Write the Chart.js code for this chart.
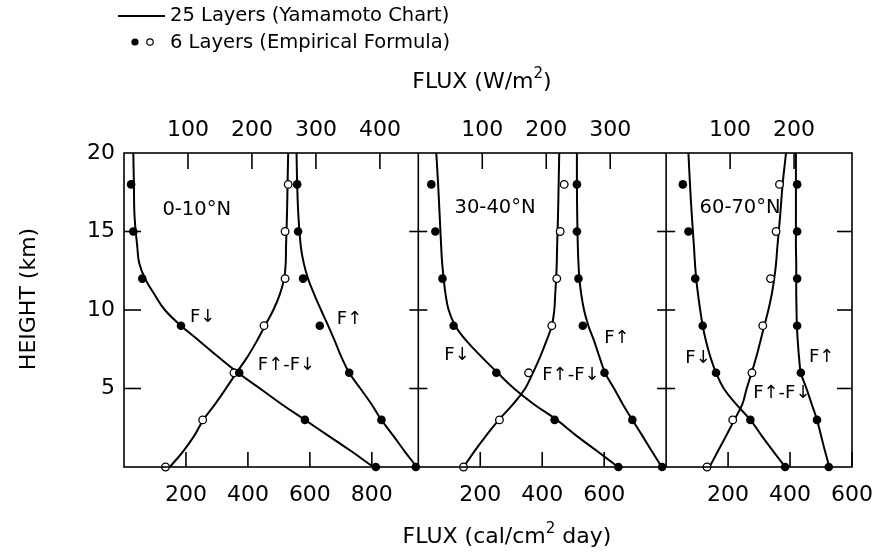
<!DOCTYPE html>
<html>
<head>
<meta charset="utf-8">
<script src="https://cdn.jsdelivr.net/npm/chart.js@4.4.1/dist/chart.umd.min.js"></script>
<style>
  html, body { margin: 0; padding: 0; background: #fff; }
  #wrap { position: relative; width: 894px; height: 555px; }
</style>
</head>
<body>
<div id="wrap"><canvas id="fluxChart" width="894" height="555"></canvas></div>
<script>
// heights (km) of the 25-layer curves and of the 6-layer points
const LINE_H = [0, 1, 2, 3, 4, 5, 6, 7, 8, 9, 10, 11, 12, 13, 14, 16, 18, 20];
const DOT_H = [0, 3, 6, 9, 12, 15, 18];

// latitude bands, one panel each
const BANDS = ['0-10°N', '30-40°N', '60-70°N'];

// 25 layers (Yamamoto chart), cal/cm2 day at LINE_H
const down0 = [805, 734, 659, 584, 509, 439, 368, 305, 245, 184, 132, 98, 68, 49, 43, 34, 32, 30];
const up0   = [945, 906, 869, 831, 799, 763, 727, 702, 681, 659, 636, 614, 594, 580, 571, 563, 559, 557];
const net0  = [148, 191, 227, 256, 294, 329, 363, 398, 428, 455, 482, 503, 517, 522, 523, 526, 528, 530];

const down30 = [645, 578, 510, 447, 373, 309, 256, 205, 157, 119, 98, 88, 82, 77, 74, 69, 64, 58];
const up30   = [786, 754, 723, 691, 660, 632, 603, 585, 568, 549, 535, 526, 520, 517, 515, 513, 512, 512];
const net30  = [146, 181, 219, 260, 306, 345, 370, 393, 413, 431, 439, 442, 445, 447, 448, 451, 453, 455];

const down60 = [384, 346, 308, 272, 226, 186, 161, 143, 129, 118, 110, 103, 97, 93, 90, 83, 77, 72];
const up60   = [527, 513, 500, 487, 470, 453, 435, 429, 425, 422, 421, 420, 420, 420, 419, 419, 419, 419];
const net60  = [140, 167, 194, 220, 246, 260, 276, 291, 304, 317, 330, 341, 349, 355, 359, 368, 376, 387];

// 6 layers (empirical formula), cal/cm2 day at DOT_H
const downPts0 = [813, 584, 372, 184, 59, 30, 23];
const upPts0   = [942, 831, 727, 632, 578, 562, 559];
const netPts0  = [134, 254, 355, 452, 520, 520, 530];

const downPts30 = [646, 440, 252, 114, 78, 55, 42];
const upPts30   = [787, 691, 601, 531, 517, 512, 512];
const netPts30  = [146, 262, 356, 431, 447, 458, 471];

const downPts60 = [384, 272, 161, 118, 94, 72, 54];
const upPts60   = [525, 487, 435, 423, 423, 423, 423];
const netPts60  = [132, 215, 277, 312, 337, 355, 366];

// axes
const PANEL_MAX = [950, 800, 600];                 // cal/cm2 day
const CAL_TICKS = [[200, 400, 600, 800], [200, 400, 600], [200, 400, 600]];
const WM2_TICKS = [[100, 200, 300, 400], [100, 200, 300], [100, 200]];
const HEIGHT_TICKS = [5, 10, 15, 20];
const CAL_PER_WM2 = 2.065;                         // 1 W/m2 = 2.065 cal/cm2 day

// band labels and curve labels: panel, flux (cal/cm2 day), height (km)
const BAND_LABELS = [[0, 124, 16.4, BANDS[0]], [1, 117, 16.5, BANDS[1]], [2, 108, 16.5, BANDS[2]]];
const CURVE_LABELS = [
  [0, 213, 9.55, 'F↓'], [0, 687, 9.4, 'F↑'], [0, 432, 6.5, 'F↑-F↓'],
  [1, 84, 7.1, 'F↓'], [1, 600, 8.2, 'F↑'], [1, 400, 5.85, 'F↑-F↓'],
  [2, 62, 6.9, 'F↓'], [2, 461, 7.0, 'F↑'], [2, 281, 4.7, 'F↑-F↓']
];

const FONT = 'DejaVu Sans';
const INK = '#000';

const PANELS = [
  { down: down0, up: up0, net: net0, downPts: downPts0, upPts: upPts0, netPts: netPts0 },
  { down: down30, up: up30, net: net30, downPts: downPts30, upPts: upPts30, netPts: netPts30 },
  { down: down60, up: up60, net: net60, downPts: downPts60, upPts: upPts60, netPts: netPts60 }
];

function pts(values, heights) {
  return values.map((v, i) => ({ x: v, y: heights[i] }));
}

const datasets = [];
PANELS.forEach((p, i) => {
  const xAxisID = 'x' + i;
  [p.downPts, p.upPts].forEach(v => datasets.push({
    data: pts(v, DOT_H), xAxisID, yAxisID: 'y', showLine: false, clip: false, order: 0,
    pointRadius: 4.3, pointBackgroundColor: INK, pointBorderColor: INK, pointBorderWidth: 0
  }));
  datasets.push({
    data: pts(p.netPts, DOT_H), xAxisID, yAxisID: 'y', showLine: false, clip: false, order: 0,
    pointRadius: 3.8, pointBackgroundColor: '#fff', pointBorderColor: INK, pointBorderWidth: 1.3
  });
  [p.down, p.up, p.net].forEach(v => datasets.push({
    data: pts(v, LINE_H), xAxisID, yAxisID: 'y', showLine: true, clip: false, order: 1,
    pointRadius: 0, borderColor: INK, borderWidth: 2, tension: 0.4
  }));
});

const tickFont = { family: FONT, size: 22 };
const fixedTicks = values => scale => { scale.ticks = values.map(v => ({ value: v })); };

const scales = {
  y: {
    type: 'linear', position: 'left', min: 0, max: 20,
    afterBuildTicks: fixedTicks(HEIGHT_TICKS),
    afterFit: s => { s.width = 124; },
    grid: { display: false, drawTicks: false }, border: { display: false },
    ticks: { font: tickFont, color: INK, padding: 9 }
  }
};
PANEL_MAX.forEach((max, i) => {
  scales['x' + i] = {
    type: 'linear', axis: 'x', position: 'bottom', stack: 'fluxCal', stackWeight: max,
    min: 0, max: max,
    afterBuildTicks: fixedTicks(CAL_TICKS[i]),
    afterFit: s => { s.height = 88; },
    grid: { display: false, drawTicks: false }, border: { display: false },
    ticks: { font: tickFont, color: INK, padding: 15, maxRotation: 0, autoSkip: false }
  };
  // top boxes are laid out in reverse, so the weight keeps panel order left to right
  scales['t' + i] = {
    type: 'linear', axis: 'x', position: 'top', stack: 'fluxW', stackWeight: max,
    weight: PANEL_MAX.length - i,
    min: 0, max: max / CAL_PER_WM2,
    afterBuildTicks: fixedTicks(WM2_TICKS[i]),
    afterFit: s => { s.height = 153; },
    grid: { display: false, drawTicks: false }, border: { display: false },
    ticks: { font: tickFont, color: INK, padding: 10, maxRotation: 0, autoSkip: false }
  };
});

function textWithSup(ctx, parts, cx, baseline, size) {
  const fonts = parts.map(([, sup]) => (sup ? Math.round(size * 0.68) : size) + 'px "' + FONT + '"');
  const widths = parts.map(([t], k) => { ctx.font = fonts[k]; return ctx.measureText(t).width; });
  let x = cx - widths.reduce((a, b) => a + b, 0) / 2;
  ctx.textAlign = 'left';
  ctx.textBaseline = 'alphabetic';
  parts.forEach(([t, sup], k) => {
    ctx.font = fonts[k];
    ctx.fillText(t, x, sup ? baseline - size * 0.45 : baseline);
    x += widths[k];
  });
}

// panel frames, inward ticks, titles, legend and curve labels
const panelDecor = {
  id: 'panelDecor',
  afterDraw(chart) {
    const { ctx, chartArea: a, scales: sc } = chart;
    const ys = sc.y;
    const seg = (x1, y1, x2, y2) => { ctx.beginPath(); ctx.moveTo(x1, y1); ctx.lineTo(x2, y2); ctx.stroke(); };
    ctx.save();
    ctx.strokeStyle = INK;
    ctx.fillStyle = INK;
    ctx.lineWidth = 1.6;
    ctx.strokeRect(a.left, a.top, a.right - a.left, a.bottom - a.top);
    for (let i = 1; i < PANEL_MAX.length; i++) {
      const x = sc['x' + i].left;
      seg(x, a.top, x, a.bottom);
    }
    HEIGHT_TICKS.filter(h => h < ys.max).forEach(h => {
      const y = ys.getPixelForValue(h);
      seg(a.left, y, a.left + 17, y);
      for (let i = 1; i < PANEL_MAX.length; i++) {
        const x = sc['x' + i].left;
        seg(x - 9, y, x + 9, y);
      }
      seg(a.right - 15, y, a.right, y);
    });
    PANEL_MAX.forEach((max, i) => {
      CAL_TICKS[i].forEach(v => {
        const x = sc['x' + i].getPixelForValue(v);
        seg(x, a.bottom, x, a.bottom - 15);
      });
      WM2_TICKS[i].forEach(v => {
        const x = sc['t' + i].getPixelForValue(v);
        seg(x, a.top, x, a.top + 16);
      });
    });

    // axis titles
    textWithSup(ctx, [['FLUX (W/m', false], ['2', true], [')', false]], 482, 88, 22);
    textWithSup(ctx, [['FLUX (cal/cm', false], ['2', true], [' day)', false]], 507, 543, 22);
    ctx.save();
    ctx.translate(29, 299);
    ctx.rotate(-Math.PI / 2);
    ctx.font = '22px "' + FONT + '"';
    ctx.textAlign = 'center';
    ctx.textBaseline = 'middle';
    ctx.fillText('HEIGHT (km)', 0, 0);
    ctx.restore();

    // legend
    ctx.lineWidth = 2;
    seg(118, 16, 165, 16);
    ctx.beginPath(); ctx.arc(135, 42, 3.6, 0, Math.PI * 2); ctx.fill();
    ctx.fillStyle = '#fff';
    ctx.lineWidth = 1.2;
    ctx.beginPath(); ctx.arc(150, 42, 3.2, 0, Math.PI * 2); ctx.fill(); ctx.stroke();
    ctx.fillStyle = INK;
    ctx.font = '19.5px "' + FONT + '"';
    ctx.textAlign = 'left';
    ctx.textBaseline = 'alphabetic';
    ctx.fillText('25 Layers (Yamamoto Chart)', 170, 21);
    ctx.fillText('6 Layers (Empirical Formula)', 170, 48);

    // band and curve labels
    ctx.textBaseline = 'middle';
    const place = (size, list) => {
      ctx.font = size + 'px "' + FONT + '"';
      list.forEach(([i, flux, h, text]) => {
        ctx.fillText(text, sc['x' + i].getPixelForValue(flux), ys.getPixelForValue(h));
      });
    };
    place(19.5, BAND_LABELS);
    place(18, CURVE_LABELS);
    ctx.restore();
  }
};

new Chart(document.getElementById('fluxChart'), {
  type: 'scatter',
  data: { datasets },
  options: {
    responsive: false,
    animation: false,
    devicePixelRatio: 1,
    layout: { padding: { left: 0, right: 42, top: 0, bottom: 0 } },
    plugins: { legend: { display: false }, tooltip: { enabled: false } },
    scales
  },
  plugins: [panelDecor]
});
</script>
</body>
</html>
